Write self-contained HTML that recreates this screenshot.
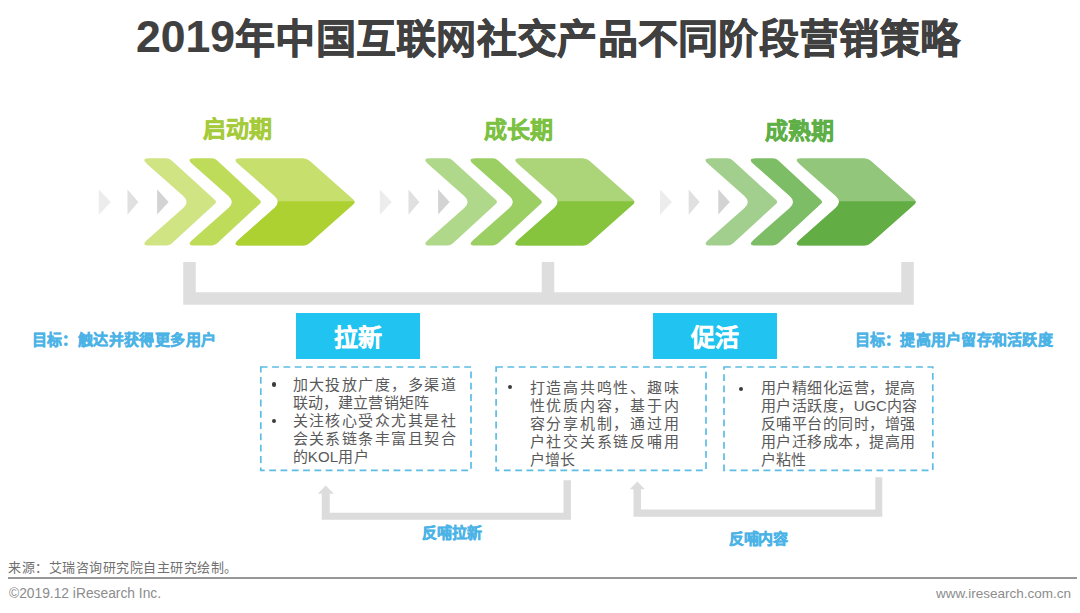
<!DOCTYPE html>
<html lang="zh-CN">
<head>
<meta charset="utf-8">
<style>
html,body{margin:0;padding:0;background:#fff;}
body{width:1080px;height:613px;position:relative;overflow:hidden;font-family:"Liberation Sans",sans-serif;}
.a{position:absolute;white-space:nowrap;}
#title{left:136px;top:8px;font-weight:bold;-webkit-text-stroke:0.7px #404040;font-size:40px;line-height:60px;color:#404040;letter-spacing:0.29px;}
#title .d{font-size:44.5px;letter-spacing:0;-webkit-text-stroke:0.15px #404040;position:relative;top:-1px;}
.ph{font-weight:bold;-webkit-text-stroke:0.45px currentColor;font-size:23px;line-height:30px;}
.goal{font-weight:bold;-webkit-text-stroke:0.45px #4bb3e6;font-size:15px;line-height:20px;color:#4bb3e6;}
.tag{background:#21c4f0;color:#fff;font-weight:bold;-webkit-text-stroke:0.3px #fff;font-size:24px;text-align:center;}
.txt{font-size:15px;line-height:17.9px;color:#595959;}
.dot{width:4.2px;height:4.2px;border-radius:50%;background:#3c3c3c;}
.lbl{font-weight:bold;-webkit-text-stroke:0.45px #4bb3e6;font-size:15px;line-height:20px;color:#4bb3e6;}
#src{left:8px;top:558px;letter-spacing:0.53px;font-size:13px;line-height:20px;color:#707070;}
#rule{left:8px;top:577px;width:1069px;height:2px;background:#979797;}
#copy{left:9px;top:585px;font-size:13.8px;line-height:18px;color:#8c8c8c;}
#url{left:936px;top:585px;font-size:13.5px;line-height:18px;color:#8c8c8c;}
</style>
</head>
<body>
<div id="title" class="a"><span class="d">2019</span>年中国互联网社交产品不同阶段营销策略</div>

<div class="a ph" style="left:203px;top:114.3px;color:#a5cb3a;">启动期</div>
<div class="a ph" style="left:484px;top:114.6px;color:#7cc142;">成长期</div>
<div class="a ph" style="left:764.5px;top:116.3px;color:#5daf46;">成熟期</div>

<svg class="a" style="left:0;top:0" width="1080" height="613" viewBox="0 0 1080 613">
<defs><clipPath id="bot"><rect x="0" y="201.30" width="1080" height="60"/></clipPath></defs>
<g transform="translate(0.0,0)">
<polygon points="98.8,189.6 110.8,202 98.8,214.8" fill="#ececec"/>
<polygon points="127.5,189.6 138.4,202 127.5,214.8" fill="#e0e0e0"/>
<polygon points="157.1,189.3 168.6,202 157.1,214.6" fill="#d3d3d3"/>
<path d="M149.15,158.30 L166.29,158.30 Q169.40,158.30 171.69,160.40 L214.99,200.06 Q217.00,201.90 214.99,203.74 L171.69,243.40 Q169.40,245.50 166.29,245.50 L149.15,245.50 Q140.70,245.50 147.03,239.90 L183.22,207.89 Q190.00,201.90 183.22,195.91 L147.03,163.90 Q140.70,158.30 149.15,158.30 Z" fill="#d0e483"/>
<path d="M194.35,158.30 L211.76,158.30 Q214.90,158.30 217.20,160.44 L259.83,200.07 Q261.80,201.90 259.83,203.73 L217.20,243.36 Q214.90,245.50 211.76,245.50 L194.35,245.50 Q185.90,245.50 192.23,239.90 L228.42,207.89 Q235.20,201.90 228.42,195.91 L192.23,163.90 Q185.90,158.30 194.35,158.30 Z" fill="#bedb59"/>
<g transform="translate(0.0,0)">
<path d="M240.35,158.30 L303.01,158.30 Q306.80,158.30 309.64,160.82 L353.04,199.28 Q356.00,201.90 353.04,204.52 L309.64,242.98 Q306.80,245.50 303.01,245.50 L240.35,245.50 Q231.90,245.50 238.23,239.90 L274.42,207.89 Q281.20,201.90 274.42,195.91 L238.23,163.90 Q231.90,158.30 240.35,158.30 Z" fill="#c6df6d"/>
<path d="M240.35,158.30 L303.01,158.30 Q306.80,158.30 309.64,160.82 L353.04,199.28 Q356.00,201.90 353.04,204.52 L309.64,242.98 Q306.80,245.50 303.01,245.50 L240.35,245.50 Q231.90,245.50 238.23,239.90 L274.42,207.89 Q281.20,201.90 274.42,195.91 L238.23,163.90 Q231.90,158.30 240.35,158.30 Z" fill="#aed132" clip-path="url(#bot)"/>
</g>
</g>
<g transform="translate(281.0,0)">
<polygon points="98.8,189.6 110.8,202 98.8,214.8" fill="#ececec"/>
<polygon points="127.5,189.6 138.4,202 127.5,214.8" fill="#e0e0e0"/>
<polygon points="157.1,189.3 168.6,202 157.1,214.6" fill="#d3d3d3"/>
<path d="M149.15,158.30 L166.29,158.30 Q169.40,158.30 171.69,160.40 L214.99,200.06 Q217.00,201.90 214.99,203.74 L171.69,243.40 Q169.40,245.50 166.29,245.50 L149.15,245.50 Q140.70,245.50 147.03,239.90 L183.22,207.89 Q190.00,201.90 183.22,195.91 L147.03,163.90 Q140.70,158.30 149.15,158.30 Z" fill="#b0d88a"/>
<path d="M194.35,158.30 L211.76,158.30 Q214.90,158.30 217.20,160.44 L259.83,200.07 Q261.80,201.90 259.83,203.73 L217.20,243.36 Q214.90,245.50 211.76,245.50 L194.35,245.50 Q185.90,245.50 192.23,239.90 L228.42,207.89 Q235.20,201.90 228.42,195.91 L192.23,163.90 Q185.90,158.30 194.35,158.30 Z" fill="#9ccf63"/>
<g transform="translate(-1.2,0)">
<path d="M240.35,158.30 L303.01,158.30 Q306.80,158.30 309.64,160.82 L353.04,199.28 Q356.00,201.90 353.04,204.52 L309.64,242.98 Q306.80,245.50 303.01,245.50 L240.35,245.50 Q231.90,245.50 238.23,239.90 L274.42,207.89 Q281.20,201.90 274.42,195.91 L238.23,163.90 Q231.90,158.30 240.35,158.30 Z" fill="#acd478"/>
<path d="M240.35,158.30 L303.01,158.30 Q306.80,158.30 309.64,160.82 L353.04,199.28 Q356.00,201.90 353.04,204.52 L309.64,242.98 Q306.80,245.50 303.01,245.50 L240.35,245.50 Q231.90,245.50 238.23,239.90 L274.42,207.89 Q281.20,201.90 274.42,195.91 L238.23,163.90 Q231.90,158.30 240.35,158.30 Z" fill="#86c43e" clip-path="url(#bot)"/>
</g>
</g>
<g transform="translate(561.2,0)">
<polygon points="98.8,189.6 110.8,202 98.8,214.8" fill="#ececec"/>
<polygon points="127.5,189.6 138.4,202 127.5,214.8" fill="#e0e0e0"/>
<polygon points="157.1,189.3 168.6,202 157.1,214.6" fill="#d3d3d3"/>
<path d="M149.15,158.30 L166.29,158.30 Q169.40,158.30 171.69,160.40 L214.99,200.06 Q217.00,201.90 214.99,203.74 L171.69,243.40 Q169.40,245.50 166.29,245.50 L149.15,245.50 Q140.70,245.50 147.03,239.90 L183.22,207.89 Q190.00,201.90 183.22,195.91 L147.03,163.90 Q140.70,158.30 149.15,158.30 Z" fill="#a3cf8e"/>
<path d="M194.35,158.30 L211.76,158.30 Q214.90,158.30 217.20,160.44 L259.83,200.07 Q261.80,201.90 259.83,203.73 L217.20,243.36 Q214.90,245.50 211.76,245.50 L194.35,245.50 Q185.90,245.50 192.23,239.90 L228.42,207.89 Q235.20,201.90 228.42,195.91 L192.23,163.90 Q185.90,158.30 194.35,158.30 Z" fill="#7cbd66"/>
<g transform="translate(0.0,0)">
<path d="M240.35,158.30 L303.01,158.30 Q306.80,158.30 309.64,160.82 L353.04,199.28 Q356.00,201.90 353.04,204.52 L309.64,242.98 Q306.80,245.50 303.01,245.50 L240.35,245.50 Q231.90,245.50 238.23,239.90 L274.42,207.89 Q281.20,201.90 274.42,195.91 L238.23,163.90 Q231.90,158.30 240.35,158.30 Z" fill="#92c67b"/>
<path d="M240.35,158.30 L303.01,158.30 Q306.80,158.30 309.64,160.82 L353.04,199.28 Q356.00,201.90 353.04,204.52 L309.64,242.98 Q306.80,245.50 303.01,245.50 L240.35,245.50 Q231.90,245.50 238.23,239.90 L274.42,207.89 Q281.20,201.90 274.42,195.91 L238.23,163.90 Q231.90,158.30 240.35,158.30 Z" fill="#63ad45" clip-path="url(#bot)"/>
</g>
</g>
  <!-- bracket -->
  <path d="M189.5,262 V298.6 H907.5 V262 M548,262 V298.6" fill="none" stroke="#dedede" stroke-width="12.5"/>
  <!-- bottom arrows -->
  <polygon points="563.5,480.2 570.9,480.2 570.9,519.8 321.7,519.8 321.7,493.8 317.8,493.8 325.7,485.6 333.8,493.8 329.7,493.8 329.7,512.7 563.5,512.7" fill="#dcdcdc"/>
  <polygon points="875.3,477.3 882.3,477.3 882.3,516.8 633.5,516.8 633.5,489.3 629.8,489.3 637.3,481.5 644.8,489.3 641,489.3 641,509.4 875.3,509.4" fill="#dcdcdc"/>
  <!-- dashed boxes -->
  <g fill="none" stroke="#5bbde5" stroke-width="1.7" stroke-dasharray="6.8 4.5">
    <rect x="260.8" y="367" width="210.2" height="103.3"/>
    <rect x="496.1" y="367" width="209.9" height="103.3"/>
    <rect x="724" y="367" width="208.8" height="103.3"/>
  </g>
</svg>

<div class="a goal" style="left:31.5px;top:330px;letter-spacing:0.42px;">目标：触达并获得更多用户</div>
<div class="a goal" style="left:854.5px;top:330px;letter-spacing:0.25px;">目标：提高用户留存和活跃度</div>

<div class="a tag" style="left:296px;top:313px;width:124px;height:46px;line-height:49px;">拉新</div>
<div class="a tag" style="left:653px;top:313px;width:124px;height:46px;line-height:49px;">促活</div>

<div class="a dot" style="left:271.5px;top:382.4px;"></div>
<div class="a dot" style="left:271.5px;top:418.9px;"></div>
<div class="a txt" style="left:292.5px;top:376px;"><div style="letter-spacing:1.47px">加大投放广度，多渠道</div><div style="letter-spacing:0.2px">联动，建立营销矩阵</div><div style="letter-spacing:1.47px">关注核心受众尤其是社</div><div style="letter-spacing:1.47px">会关系链条丰富且契合</div><div style="letter-spacing:0.2px">的KOL用户</div></div>

<div class="a dot" style="left:507.9px;top:384.7px;"></div>
<div class="a txt" style="left:529.5px;top:379.3px;"><div style="letter-spacing:1.76px">打造高共鸣性、趣味</div><div style="letter-spacing:1.76px">性优质内容，基于内</div><div style="letter-spacing:1.76px">容分享机制，通过用</div><div style="letter-spacing:1.76px">户社交关系链反哺用</div><div style="letter-spacing:0.3px">户增长</div></div>

<div class="a dot" style="left:738.7px;top:386.6px;"></div>
<div class="a txt" style="left:760.8px;top:379.3px;"><div style="letter-spacing:0.5px">用户精细化运营，提高</div><div style="letter-spacing:0.5px">用户活跃度，<span style="letter-spacing:-0.2px">UGC</span>内容</div><div style="letter-spacing:0.5px">反哺平台的同时，增强</div><div style="letter-spacing:0.5px">用户迁移成本，提高用</div><div style="letter-spacing:0.3px">户粘性</div></div>

<div class="a lbl" style="left:421.5px;top:523px;letter-spacing:0.3px;">反哺拉新</div>
<div class="a lbl" style="left:729px;top:529px;letter-spacing:-0.3px;">反哺内容</div>

<div id="src" class="a">来源：艾瑞咨询研究院自主研究绘制。</div>
<div id="rule" class="a"></div>
<div id="copy" class="a">©2019.12 iResearch Inc.</div>
<div id="url" class="a">www.iresearch.com.cn</div>
</body>
</html>
